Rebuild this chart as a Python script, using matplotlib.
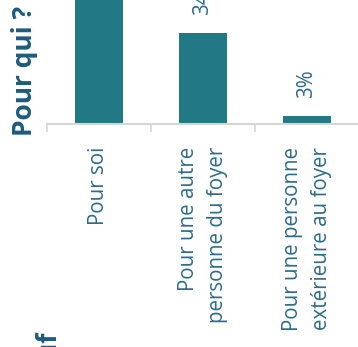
import matplotlib
matplotlib.use('Agg')
import matplotlib.pyplot as plt
import numpy as np

plt.rcParams['font.family'] = ['Open Sans', 'DejaVu Sans']

# data (chart is drawn turned a quarter turn, as in the picture)
categories = ['Pour soi', 'Pour une autre\npersonne du foyer', 'Pour une personne\nextérieure au foyer']
values = [63, 34, 3]
value_labels = ['63%', '34%', '3%']

BAR = '#227985'
TXT = '#2b6b8c'
TITLE = '#1d5b7e'
GRID = '#d6d6d6'

W, H = 358, 347
fig = plt.figure(figsize=(W / 100, H / 100), dpi=100)

# axes: left at x=47px, bottom (the axis line) at y=124px from the top
ax = fig.add_axes([47 / W, (H - 124) / H, 312 / W, 124 / H])
x = np.arange(len(categories))
ax.bar(x, values, width=0.46, color=BAR)
ax.set_xlim(-0.5, 2.5)
ymax = 46.3
ax.set_ylim(0, ymax)

for s in ['left', 'right', 'top']:
    ax.spines[s].set_visible(False)
ax.spines['bottom'].set_color(GRID)
ax.spines['bottom'].set_linewidth(1.5)
ax.set_yticks([])

ax.set_xticks(x)
ax.set_xticklabels(categories, rotation=90, color=TXT, fontsize=14.8,
                   multialignment='right', linespacing=1.55)
ax.tick_params(axis='x', which='major', length=0, pad=16.5)
ax.set_xticks([-0.5, 0.5, 1.5, 2.5], minor=True)
ax.tick_params(axis='x', which='minor', length=5.5, width=1.2, color=GRID)

# value labels; the first bar runs off the top of the crop so its label is not seen
for xi, v, lab in zip(x, values, value_labels):
    if v > ymax:
        continue
    ax.annotate(lab, (xi, v), xytext=(0, 13), textcoords='offset points',
                rotation=90, ha='center', va='bottom', color=TXT,
                fontsize=14.8, annotation_clip=False)

fig.text(11 / W, (H - 136) / H, 'Pour qui ?', rotation=90, ha='left', va='bottom',
         fontsize=19, fontweight='bold', color=TITLE)
fig.text(34 / W, (H - 331) / H, 'uf', rotation=90, ha='left', va='top',
         fontsize=19, fontweight='bold', color=TITLE)

fig.savefig('out.png', dpi=100)
